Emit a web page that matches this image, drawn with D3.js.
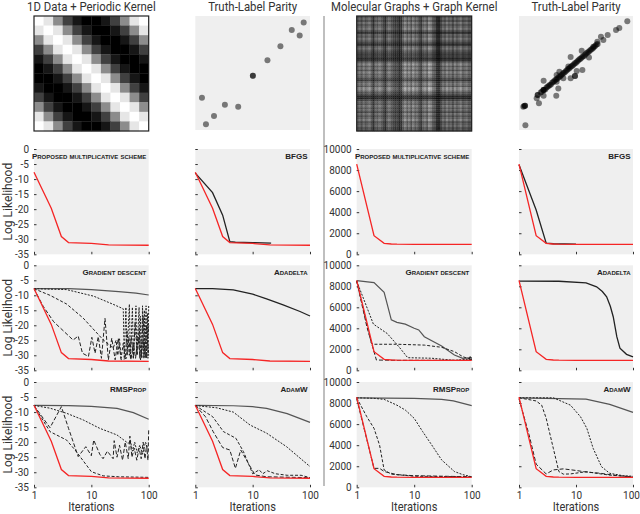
<!DOCTYPE html>
<html lang="en">
<head>
    <meta charset="UTF-8">
    <title>Document</title>
    <script src="https://d3js.org/d3.v7.min.js"></script>
</head>
<style>
    html,body {
        margin: 0;
        padding: 0;
        background: #fff;
    }
    text {
        font-family: Roboto, sans-serif;
        fill: #333;
    }
</style>
<body>
    <div id="svg"></div>
</body>
<script>
    // values
    const titles = ['1D Data + Periodic Kernel', 'Truth-Label Parity', 'Molecular Graphs + Graph Kernel', 'Truth-Label Parity'];
    const methods = [
        ['Proposed multiplicative scheme', 'BFGS'],
        ['Gradient descent', 'Adadelta'],
        ['RMSProp', 'AdamW']
    ];
    const xTicks = [1, 10, 100];
    const llTicks = [0, -5, -10, -15, -20, -25, -30, -35];
    const molTicks = [0, 2000, 4000, 6000, 8000, 10000];

    // periodic kernel, one row by lag
    const kernelLag = [1, 0.9, 0.55, 0.25, 0.07, 0, 0, 0.07, 0.25, 0.55, 0.9, 1];
    // graph kernel, brightness of each row/column band
    const graphBands = [0.6, 0.72, 0.55, 0.78, 0.6, 0.7, 0.82, 0.58, 0.36, 0.7, 0.62, 0.8, 0.66, 0.5, 0.34, 0.66, 0.78, 0.6, 0.5, 0.42,
        0.46, 0.3, 0.38, 0.7, 0.92, 0.66, 0.85, 0.6, 0.9, 0.68, 0.76, 0.55, 0.42, 0.72, 0.82, 0.64, 0.98, 0.88, 0.62, 0.56,
        0.3, 0.28, 0.5, 0.72, 0.6, 0.82, 0.64, 0.74, 0.52, 0.78, 0.6, 0.7, 0.84, 0.58, 0.66, 0.74, 0.56, 0.6];

    const parity1D = [[0.945, 0.944], [0.841, 0.877], [0.91, 0.83], [0.742, 0.734], [0.629, 0.611], [0.502, 0.476], [0.502, 0.476],
        [0.374, 0.204], [0.258, 0.222], [0.163, 0.123], [0.093, 0.05], [0.058, 0.283]];
    const parityMolOuter = [[0.95, 0.953], [0.88, 0.895], [0.851, 0.877], [0.778, 0.833], [0.719, 0.819], [0.74, 0.79], [0.687, 0.775], [0.652, 0.731],
        [0.55, 0.696], [0.453, 0.64], [0.614, 0.635], [0.556, 0.526], [0.506, 0.518], [0.491, 0.474], [0.491, 0.474], [0.453, 0.453], [0.433, 0.556],
        [0.354, 0.512], [0.389, 0.453], [0.33, 0.482], [0.216, 0.433], [0.33, 0.424], [0.345, 0.365], [0.327, 0.301], [0.216, 0.351], [0.216, 0.351],
        [0.216, 0.301], [0.164, 0.307], [0.164, 0.307], [0.155, 0.278], [0.175, 0.234], [0.053, 0.213], [0.053, 0.213], [0.045, 0.21], [0.038, 0.205], [0.056, 0.041]];
    const parityMolLine = [[0.19, 0.33], [0.2, 0.335], [0.215, 0.35], [0.23, 0.355], [0.24, 0.37], [0.25, 0.38], [0.26, 0.385], [0.27, 0.395], [0.28, 0.4], [0.29, 0.415],
        [0.3, 0.42], [0.31, 0.43], [0.32, 0.44], [0.33, 0.445], [0.34, 0.455], [0.35, 0.465], [0.36, 0.47], [0.37, 0.48], [0.38, 0.49], [0.39, 0.5],
        [0.4, 0.505], [0.41, 0.515], [0.42, 0.525], [0.43, 0.535], [0.44, 0.54], [0.45, 0.55], [0.46, 0.56], [0.47, 0.565], [0.48, 0.575], [0.49, 0.585],
        [0.5, 0.59], [0.51, 0.6], [0.52, 0.61], [0.53, 0.62], [0.54, 0.625], [0.55, 0.635], [0.56, 0.645], [0.57, 0.65], [0.58, 0.66], [0.59, 0.67],
        [0.6, 0.68], [0.61, 0.685], [0.62, 0.695], [0.63, 0.705], [0.64, 0.71], [0.65, 0.72], [0.66, 0.73], [0.67, 0.74], [0.68, 0.75], [0.69, 0.755]];

    // proposed scheme, drawn in red on every panel
    const proposedLL = [[1, -7.75], [2, -19.7], [3, -29.1], [4, -31.1], [10, -31.4], [20, -31.9], [100, -32]];
    const proposedMol = [[1, 8570], [2, 1770], [3, 1040], [4, 980], [5, 960], [10, 950], [100, 950]];

    const bfgsLL = [[1, -8], [2, -14.5], [3, -22], [4, -30.8], [5, -31], [10, -31.1], [21, -31.3]];
    const adadeltaLL = [[1, -7.75], [2, -7.8], [4.6, -8.2], [10, -9.6], [17.5, -11.2], [34, -13.2], [67, -15.4], [100, -16.9]];
    const gdLLSolid = [[1, -7.75], [4, -7.8], [10, -8.1], [30, -8.8], [60, -9.3], [100, -9.9]];
    const gdLLShort = [[1, -7.8], [3.7, -8.1], [11, -10.3], [24, -13], [36, -14.5], [37.5, -31], [40, -14], [42, -30], [46, -13], [48, -31], [52, -14], [54, -31],
        [60, -13.5], [62, -30], [68, -14], [70, -31], [72, -17], [76, -31], [78, -13.5], [82, -31], [84, -15], [86, -31], [90, -13.5], [92, -31], [95, -16], [97, -31], [100, -13.5]];
    const gdLLMid = [[1, -7.8], [1.9, -10], [3.7, -12.9], [7.2, -17.6], [16, -24.8], [24, -27.6], [27, -25], [29, -30], [31, -24.5], [33, -31], [36, -26], [39, -31], [42, -22],
        [46, -30], [50, -24], [54, -31], [58, -19], [63, -30], [68, -21], [74, -31], [80, -17], [86, -30], [92, -20], [100, -30]];
    const gdLLLong = [[1, -7.8], [1.45, -13.7], [2.2, -18.8], [4.8, -24.9], [5.9, -23.6], [7, -29.3], [8.9, -30.4], [10.2, -24], [11.6, -29.3], [13.2, -23.8], [15, -31], [17.3, -17.7],
        [19.8, -31.5], [22.7, -24.3], [26, -31.5], [29.5, -24.3], [33, -31.5], [41, -31], [45, -24], [49, -31.5], [54, -26], [59, -31], [65, -24], [72, -31.5], [80, -25], [90, -31], [100, -20]];
    const rmsLLSolid = [[1, -7.75], [4, -7.85], [10, -8.1], [28, -8.75], [54, -10.2], [100, -12.4]];
    const rmsLLShort = [[1, -7.8], [1.9, -8.7], [3.7, -10.4], [7.2, -12.6], [14, -15.4], [28, -17.6], [44, -20.4], [48, -19.5], [52, -23], [57, -20], [63, -23.5], [70, -21], [78, -24], [88, -20], [100, -23]];
    const rmsLLMid = [[1, -7.8], [1.9, -16.5], [3.7, -19.3], [5.2, -22.6], [10, -29.8], [16, -31.2], [30, -31.5], [100, -31.7]];
    const rmsLLLong = [[1, -7.8], [1.9, -15.2], [3, -8.2], [4, -15.4], [5.9, -24.8], [8, -21.5], [10, -24.5], [11, -19.3], [14, -24], [16, -25.5], [19, -23], [24, -25.5], [25, -19.5], [28, -25],
        [31, -21], [35, -26], [39, -20], [44, -25.5], [47, -18], [51, -25], [56, -22], [62, -26], [68, -22], [74, -25.5], [80, -20], [86, -25.5], [92, -21], [97, -26], [100, -16]];
    const adamLLSolid = [[1, -7.75], [4.6, -7.9], [10, -8.2], [17.5, -8.75], [40, -10.5], [100, -13.4]];
    const adamLLShort = [[1, -7.8], [2.4, -8.6], [4.6, -10], [9, -14.3], [17.5, -17], [39, -21.5], [100, -28.1]];
    const adamLLMid = [[1, -7.8], [2, -11.5], [3.1, -16.5], [5.1, -18.7], [6.9, -23.1], [10, -30.5], [13, -29.2], [15, -30.5], [18, -29.5], [25, -30.5], [40, -31], [70, -31], [100, -31.8]];
    const adamLLLong = [[1, -7.8], [1.5, -11.5], [2.05, -16.5], [3, -21.8], [4, -22.6], [5, -28.7], [6.2, -22.6], [8.4, -27], [11, -30.9], [17.5, -31.5], [100, -31.8]];

    const bfgsMol = [[1, 8500], [2, 4200], [3, 1050], [4, 1000], [10, 960]];
    const adadeltaMol = [[1, 8500], [5, 8480], [15, 8330], [23, 7950], [29, 7500], [34.5, 7000], [40, 6100], [45, 5100], [52, 3200], [59, 2100], [77, 1520], [100, 1270]];
    const gdMolSolid = [[1, 8540], [2, 8350], [3, 7430], [4, 4800], [5, 4570], [7, 4400], [10, 4000], [12, 3840], [15, 3200], [30, 2320], [50, 1460], [70, 1140], [100, 1200]];
    const gdMolShort = [[1, 8500], [1.95, 4400], [3.4, 3500], [5.5, 2200], [7.7, 1200], [20, 1150], [50, 950], [85, 1050], [100, 1000]];
    const gdMolMid = [[1, 8500], [1.8, 2570], [2, 2480], [5, 2480], [15, 2400], [30, 2190], [50, 1780], [70, 1300], [100, 1000]];
    const gdMolLong = [[1, 8500], [1.5, 4160], [2.2, 980], [5, 950], [90, 950], [94, 1400], [100, 950]];
    const rmsMolSolid = [[1, 8500], [10, 8440], [30, 8350], [48, 8200], [100, 7750]];
    const rmsMolShort = [[1, 8500], [2, 8450], [3, 8350], [5, 7800], [7, 7340], [10, 6550], [14, 5300], [20, 4050], [30, 2600], [50, 1500], [70, 1200], [100, 1000]];
    const rmsMolMid = [[1, 8500], [1.5, 6700], [2, 5600], [2.5, 4000], [3, 1650], [4, 1250], [10, 1050], [100, 1000]];
    const rmsMolLong = [[1, 8400], [2, 1800], [2.5, 1800], [3, 1500], [5, 1200], [10, 1100], [100, 1000]];
    const adamMolSolid = [[1, 8500], [15, 8380], [39, 7880], [100, 7120]];
    const adamMolShort = [[1, 8500], [4, 8500], [8, 7800], [12, 6700], [15.5, 5600], [20, 3700], [28, 1960], [39, 1330], [67, 1100], [100, 1050]];
    const adamMolMid = [[1, 8500], [2, 8200], [2.5, 7800], [3, 6550], [4, 3700], [5, 1500], [6, 1250], [8, 1270], [15, 1480], [25, 1300], [40, 1150], [100, 1000]];
    const adamMolLong = [[1, 8400], [1.5, 5000], [2, 2200], [3, 1270], [4, 1650], [6, 1750], [10, 1600], [15, 1450], [25, 1350], [40, 1200], [100, 950]];

    const lineStyles = {
        solid: {dash: null, color: '#555', width: 1.2},
        short: {dash: '2,1.4', color: '#222', width: 1},
        mid: {dash: '3,1.8', color: '#222', width: 1},
        long: {dash: '4,2', color: '#222', width: 1},
        black: {dash: null, color: '#222', width: 1.3}
    };

    const lines = [
        [[[bfgsLL, 'black']], [[bfgsLL, 'black']]],
        [[[gdLLSolid, 'solid'], [gdLLShort, 'short'], [gdLLMid, 'mid'], [gdLLLong, 'long']], [[adadeltaLL, 'black']]],
        [[[rmsLLSolid, 'solid'], [rmsLLShort, 'short'], [rmsLLMid, 'mid'], [rmsLLLong, 'long']],
            [[adamLLSolid, 'solid'], [adamLLShort, 'short'], [adamLLMid, 'mid'], [adamLLLong, 'long']]]
    ];
    const linesMol = [
        [[[bfgsMol, 'black']], [[bfgsMol, 'black']]],
        [[[gdMolSolid, 'solid'], [gdMolShort, 'short'], [gdMolMid, 'mid'], [gdMolLong, 'long']], [[adadeltaMol, 'black']]],
        [[[rmsMolSolid, 'solid'], [rmsMolShort, 'short'], [rmsMolMid, 'mid'], [rmsMolLong, 'long']],
            [[adamMolSolid, 'solid'], [adamMolShort, 'short'], [adamMolMid, 'mid'], [adamMolLong, 'long']]]
    ];

    // layout
    const colX = [[34, 148.7], [195.3, 310], [356.7, 471.7], [519, 633]];
    const rowY = [[149, 254.3], [265.3, 370.3], [382, 487.3]];
    const topY = [16, 131];
    const gridBg = '#efefef';

    const svg = d3.select('#svg').append('svg')
        .attr('width', 640)
        .attr('height', 514)
        .style('display', 'block');

    // the source picture is a soft raster, the heatmaps need a little of that
    svg.append('defs').append('filter')
        .attr('id', 'soft')
        .append('feGaussianBlur')
        .attr('stdDeviation', 0.45);

    // titles
    svg.append('g').selectAll('text')
        .data(titles)
        .enter()
        .append('text')
        .attr('transform', (d, i) => `translate(${(colX[i][0] + colX[i][1]) / 2},11) scale(0.95,1)`)
        .attr('text-anchor', 'middle')
        .style('font-size', '12px')
        .text(d => d);

    // separator between the two data sets
    svg.append('line')
        .attr('x1', 324).attr('x2', 324)
        .attr('y1', 16).attr('y2', 486)
        .attr('stroke', '#aaa')
        .attr('stroke-width', 1.5);

    function drawHeatmap(col, size, value, top) {
        const x = d3.scaleBand().domain(d3.range(size)).range(colX[col]);
        const y = d3.scaleBand().domain(d3.range(size)).range(topY);
        const grey = d3.scaleLinear().domain([0, 1]).range(['#000', top]);
        const g = svg.append('g');
        const cells = g.append('g').attr('filter', 'url(#soft)');
        d3.range(size).forEach(r => {
            cells.selectAll(null)
                .data(d3.range(size))
                .enter()
                .append('rect')
                .attr('x', c => x(c))
                .attr('y', y(r))
                .attr('width', x.bandwidth() + 0.3)
                .attr('height', y.bandwidth() + 0.3)
                .attr('fill', c => grey(value(r, c)));
        });
        g.append('rect')
            .attr('x', colX[col][0])
            .attr('y', topY[0])
            .attr('width', colX[col][1] - colX[col][0])
            .attr('height', topY[1] - topY[0])
            .attr('fill', 'none')
            .attr('stroke', '#222')
            .attr('stroke-width', 1.2);
    }
    drawHeatmap(0, kernelLag.length, (r, c) => kernelLag[Math.abs(r - c)], '#fff');
    drawHeatmap(2, graphBands.length, (r, c) => graphBands[r] * graphBands[c], '#c8c8c8');

    function drawParity(col, points) {
        const x = d3.scaleLinear().domain([0, 1]).range(colX[col]);
        const y = d3.scaleLinear().domain([0, 1]).range([130, 16]);
        const g = svg.append('g');
        g.append('rect')
            .attr('x', colX[col][0])
            .attr('y', 16)
            .attr('width', colX[col][1] - colX[col][0])
            .attr('height', 114)
            .attr('fill', gridBg);
        g.selectAll('circle')
            .data(points)
            .enter()
            .append('circle')
            .attr('cx', d => x(d[0]))
            .attr('cy', d => y(d[1]))
            .attr('r', 3)
            .attr('fill', '#000')
            .attr('fill-opacity', 0.5);
    }
    drawParity(1, parity1D);
    drawParity(3, parityMolOuter.concat(parityMolLine));

    const line = d3.line().curve(d3.curveLinear);

    function drawPanel(col, row, yDomain, yTickVals, proposed, series, label) {
        const x = d3.scaleLog().domain([1, 100]).range(colX[col]);
        const y = d3.scaleLinear().domain(yDomain).range([rowY[row][1], rowY[row][0]]);
        const g = svg.append('g');
        g.append('rect')
            .attr('x', colX[col][0])
            .attr('y', rowY[row][0])
            .attr('width', colX[col][1] - colX[col][0])
            .attr('height', rowY[row][1] - rowY[row][0])
            .attr('fill', gridBg);

        const showY = col % 2 === 0;
        const showX = row === 2;
        const yAxis = d3.axisLeft(y)
            .tickValues(yTickVals)
            .tickSize(-2.5)
            .tickPadding(5)
            .tickFormat(d => showY ? String(d) : '');
        const xAxis = d3.axisBottom(x)
            .tickValues(xTicks)
            .tickSize(-2.5)
            .tickPadding(4.5)
            .tickFormat(d => showX ? String(d) : '');
        const ya = g.append('g').attr('transform', `translate(${colX[col][0]},0)`).call(yAxis);
        const xa = g.append('g').attr('transform', `translate(0,${rowY[row][1]})`).call(xAxis);
        ya.select('.domain').remove();
        xa.select('.domain').remove();
        ya.selectAll('line').attr('stroke', '#333');
        xa.selectAll('line').attr('stroke', '#333');
        ya.selectAll('text').style('font-size', '10px').attr('fill', '#333');
        xa.selectAll('text').style('font-size', '10px').attr('fill', '#333');
        // keep the last label of the last column inside the window
        if (col === 3) xa.selectAll('text').filter(d => d === 100).attr('dx', -2);

        const toPath = pts => line(pts.map(d => [x(d[0]), y(d[1])]));
        series.forEach(s => {
            const st = lineStyles[s[1]];
            g.append('path')
                .attr('d', toPath(s[0]))
                .attr('fill', 'none')
                .attr('stroke', st.color)
                .attr('stroke-width', st.width)
                .attr('stroke-dasharray', st.dash);
        });
        g.append('path')
            .attr('d', toPath(proposed))
            .attr('fill', 'none')
            .attr('stroke', '#f52525')
            .attr('stroke-width', 1.3);

        g.append('text')
            .attr('x', colX[col][1] - 2.5)
            .attr('y', rowY[row][0] + 10)
            .attr('text-anchor', 'end')
            .style('font-family', '"Liberation Sans", sans-serif')
            .style('font-variant', 'small-caps')
            .style('font-weight', 'bold')
            .style('font-size', '8px')
            .style('fill', '#222')
            .text(label);
    }

    rowY.forEach((r, row) => {
        [0, 1].forEach(m => {
            const label = methods[row][m];
            if (row === 0 && m === 0) {
                drawPanel(0, row, [-35, 0], llTicks, proposedLL, [], label);
                drawPanel(2, row, [0, 10000], molTicks, proposedMol, [], label);
            } else {
                drawPanel(m * 2 - (m ? 1 : 0), row, [-35, 0], llTicks, proposedLL, lines[row][m], label);
                drawPanel(m * 2 + (m ? 1 : 2), row, [0, 10000], molTicks, proposedMol, linesMol[row][m], label);
            }
        });
        svg.append('text')
            .attr('transform', `translate(11.5,${(r[0] + r[1]) / 2}) rotate(-90)`)
            .attr('text-anchor', 'middle')
            .style('font-size', '12px')
            .text('Log Likelihood');
    });

    colX.forEach(c => {
        svg.append('text')
            .attr('transform', `translate(${(c[0] + c[1]) / 2},511) scale(0.92,1)`)
            .attr('text-anchor', 'middle')
            .style('font-size', '12px')
            .text('Iterations');
    });
</script>
</html>
